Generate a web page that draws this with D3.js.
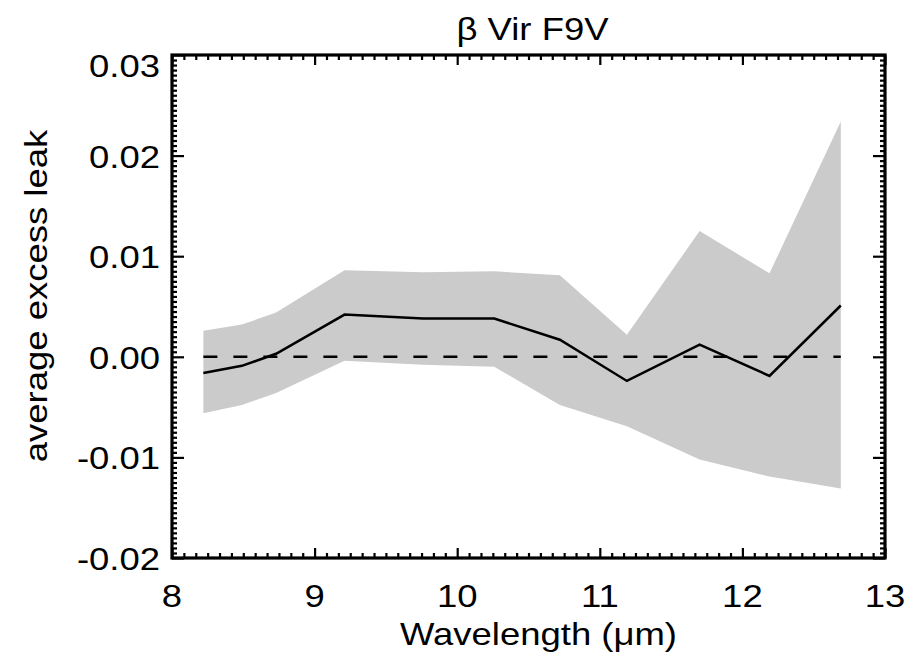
<!DOCTYPE html>
<html>
<head>
<meta charset="utf-8">
<script src="https://cdn.jsdelivr.net/npm/d3@7"></script>
<style>
  body { margin: 0; background: #fff; }
  text { font-family: "Liberation Sans", Arial, sans-serif; fill: #000; }
</style>
</head>
<body>
<div id="main"></div>
<script>
// --- data
const wavelength = [8.22, 8.49, 8.73, 9.21, 9.76, 10.26, 10.72, 11.19, 11.70, 12.19, 12.69];
const meanLeak   = [-0.0016, -0.0009, 0.0003, 0.0042, 0.0038, 0.0038, 0.0017, -0.0024, 0.0012, -0.0019, 0.0051];
const upperLeak  = [0.0026, 0.0032, 0.0044, 0.0086, 0.0084, 0.0085, 0.0081, 0.0022, 0.0125, 0.0083, 0.0234];
const lowerLeak  = [-0.0056, -0.0048, -0.0036, -0.0004, -0.0008, -0.0010, -0.0048, -0.0069, -0.0102, -0.0119, -0.0131];

const xTicks = [8, 9, 10, 11, 12, 13];
const xTickLabels = ['8', '9', '10', '11', '12', '13'];
const yTicks = [-0.02, -0.01, 0, 0.01, 0.02, 0.03];
const yTickLabels = ['-0.02', '-0.01', '0.00', '0.01', '0.02', '0.03'];

const svgWidth = 908, svgHeight = 655;
const margin = { left: 172, right: 23, top: 55, bottom: 97 };
const chartWidth = svgWidth - margin.left - margin.right;
const chartHeight = svgHeight - margin.top - margin.bottom;
const fontSize = 32;
const stretch = 1.14; // the original lettering is a bit wider than Arial

const svg = d3.select('#main')
  .append('svg')
  .attr('width', svgWidth)
  .attr('height', svgHeight);

const xScale = d3.scaleLinear().domain([8, 13]).range([0, chartWidth]);
const yScale = d3.scaleLinear().domain([-0.02, 0.03]).range([chartHeight, 0]);

const g = svg.append('g').attr('transform', `translate(${margin.left}, ${margin.top})`);

const rows = wavelength.map((w, i) => ({ w, m: meanLeak[i], hi: upperLeak[i], lo: lowerLeak[i] }));

// shaded band
g.append('path')
  .datum(rows)
  .attr('fill', '#cbcbcb')
  .attr('d', d3.area()
    .x(d => xScale(d.w))
    .y0(d => yScale(d.lo))
    .y1(d => yScale(d.hi)));

// zero line
g.append('path')
  .datum([wavelength[0], wavelength[wavelength.length - 1]])
  .attr('fill', 'none')
  .attr('stroke', '#000')
  .attr('stroke-width', 2.4)
  .attr('stroke-dasharray', '14,16')
  .attr('d', d3.line().x(d => xScale(d)).y(() => yScale(0)));

// mean line
g.append('path')
  .datum(rows)
  .attr('fill', 'none')
  .attr('stroke', '#000')
  .attr('stroke-width', 2.5)
  .attr('d', d3.line().x(d => xScale(d.w)).y(d => yScale(d.m)));

// minor tick values
const xMinor = d3.range(8, 13.0001, 1 / 12).filter(v => Math.abs(v - Math.round(v)) > 1e-6);
const yMinor = d3.range(-0.02, 0.03001, 0.0005).filter(v => Math.abs(v * 100 - Math.round(v * 100)) > 1e-6);

function addAxis(axisFn, transform, scale, values, size) {
  const ax = g.append('g')
    .attr('transform', transform)
    .call(axisFn(scale).tickValues(values).tickSize(size).tickSizeOuter(0).tickFormat(''));
  ax.select('.domain').remove();
  ax.selectAll('.tick line').attr('stroke', '#000').attr('stroke-width', 2.2);
  ax.selectAll('.tick text').remove();
  return ax;
}

// x axes (bottom + top), ticks point inward
addAxis(d3.axisBottom, `translate(0, ${chartHeight})`, xScale, xTicks, -10);
addAxis(d3.axisBottom, `translate(0, ${chartHeight})`, xScale, xMinor, -5);
addAxis(d3.axisTop, 'translate(0, 0)', xScale, xTicks, -10);
addAxis(d3.axisTop, 'translate(0, 0)', xScale, xMinor, -5);

// y axes (left + right)
addAxis(d3.axisLeft, 'translate(0, 0)', yScale, yTicks, -12);
addAxis(d3.axisLeft, 'translate(0, 0)', yScale, yMinor, -5);
addAxis(d3.axisRight, `translate(${chartWidth}, 0)`, yScale, yTicks, -12);
addAxis(d3.axisRight, `translate(${chartWidth}, 0)`, yScale, yMinor, -5);

// tick labels, drawn with the same scales
function label(x, y, anchor, txt, rotate) {
  svg.append('text')
    .attr('transform', `translate(${x}, ${y})${rotate ? ' rotate(-90)' : ''} scale(${stretch}, 1)`)
    .attr('text-anchor', anchor)
    .attr('font-size', fontSize)
    .text(txt);
}

xTicks.forEach((t, i) => label(margin.left + xScale(t), 607, 'middle', xTickLabels[i]));
yTicks.forEach((t, i) => {
  const dy = i === yTicks.length - 1 ? 22 : 12;
  label(margin.left - 12, margin.top + yScale(t) + dy, 'end', yTickLabels[i]);
});

// frame
g.append('rect')
  .attr('width', chartWidth)
  .attr('height', chartHeight)
  .attr('fill', 'none')
  .attr('stroke', '#000')
  .attr('stroke-width', 3.2);

// titles
label(margin.left + chartWidth / 2 + 4, 40, 'middle', 'β Vir F9V');
label(margin.left + chartWidth / 2 + 10, 645, 'middle', 'Wavelength (μm)');

svg.append('text')
  .attr('transform', `translate(47, ${margin.top + 241}) rotate(-90) scale(${stretch}, 1)`)
  .attr('text-anchor', 'middle')
  .attr('font-size', fontSize)
  .text('average excess leak');
</script>
</body>
</html>
